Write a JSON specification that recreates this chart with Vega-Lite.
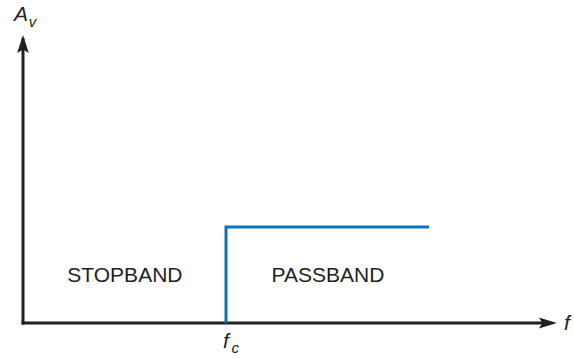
{
  "$schema": "https://vega.github.io/schema/vega-lite/v6.json",
  "width": 574,
  "height": 358,
  "autosize": {"type": "fit", "contains": "padding"},
  "padding": 0,
  "background": "white",
  "config": {"view": {"stroke": null}},
  "datasets": {
    "axes": [
      {"f": 0, "f2": 2.58, "Av": 0, "Av2": 0},
      {"f": 0, "f2": 0, "Av": 0, "Av2": 2.95}
    ],
    "response": [
      {"f": 1, "Av": 0, "step": 0},
      {"f": 1, "Av": 1, "step": 1},
      {"f": 2, "Av": 1, "step": 2}
    ],
    "bands": [
      {"label": "STOPBAND", "f": 0.502, "Av": 0.427},
      {"label": "PASSBAND", "f": 1.502, "Av": 0.427}
    ],
    "mainLabels": [
      {"label": "A", "f": -0.01, "Av": 3.146},
      {"label": "f", "f": 2.68, "Av": -0.073},
      {"label": "f", "f": 1.0, "Av": -0.26}
    ],
    "subLabels": [
      {"label": "v", "f": 0.047, "Av": 3.083},
      {"label": "c", "f": 1.045, "Av": -0.3125}
    ]
  },
  "layer": [
    {
      "data": {"name": "axes"},
      "mark": {"type": "rule", "color": "#231f20", "strokeWidth": 3, "strokeCap": "square"},
      "encoding": {
        "x": {"field": "f", "type": "quantitative", "scale": {"domain": [-0.1133, 2.7143], "nice": false, "zero": false}, "axis": null},
        "x2": {"field": "f2"},
        "y": {"field": "Av", "type": "quantitative", "scale": {"domain": [-0.3646, 3.3646], "nice": false, "zero": false}, "axis": null},
        "y2": {"field": "Av2"}
      }
    },
    {
      "data": {"values": [{"f": 2.63, "Av": 0}]},
      "mark": {"type": "point", "filled": true, "opacity": 1, "color": "#231f20", "size": 324, "shape": "M 0 0 L -2 -0.6 L -1.6 0 L -2 0.6 Z"},
      "encoding": {
        "x": {"field": "f", "type": "quantitative"},
        "y": {"field": "Av", "type": "quantitative"}
      }
    },
    {
      "data": {"values": [{"f": 0, "Av": 3.0}]},
      "mark": {"type": "point", "filled": true, "opacity": 1, "color": "#231f20", "size": 324, "shape": "M 0 0 L -0.65 2 L 0 1.6 L 0.65 2 Z"},
      "encoding": {
        "x": {"field": "f", "type": "quantitative"},
        "y": {"field": "Av", "type": "quantitative"}
      }
    },
    {
      "data": {"name": "response"},
      "mark": {"type": "line", "color": "#0a72ba", "strokeWidth": 3, "strokeJoin": "miter"},
      "encoding": {
        "x": {"field": "f", "type": "quantitative"},
        "y": {"field": "Av", "type": "quantitative"},
        "order": {"field": "step", "type": "quantitative"}
      }
    },
    {
      "data": {"name": "bands"},
      "mark": {"type": "text", "font": "Liberation Sans", "fontSize": 21, "color": "#231f20", "align": "center", "baseline": "alphabetic"},
      "encoding": {
        "x": {"field": "f", "type": "quantitative"},
        "y": {"field": "Av", "type": "quantitative"},
        "text": {"field": "label"}
      }
    },
    {
      "data": {"name": "mainLabels"},
      "mark": {"type": "text", "font": "Liberation Sans", "fontStyle": "italic", "fontSize": 21, "color": "#231f20", "align": "center", "baseline": "alphabetic"},
      "encoding": {
        "x": {"field": "f", "type": "quantitative"},
        "y": {"field": "Av", "type": "quantitative"},
        "text": {"field": "label"}
      }
    },
    {
      "data": {"name": "subLabels"},
      "mark": {"type": "text", "font": "Liberation Sans", "fontStyle": "italic", "fontSize": 15, "color": "#231f20", "align": "center", "baseline": "alphabetic"},
      "encoding": {
        "x": {"field": "f", "type": "quantitative"},
        "y": {"field": "Av", "type": "quantitative"},
        "text": {"field": "label"}
      }
    }
  ]
}
